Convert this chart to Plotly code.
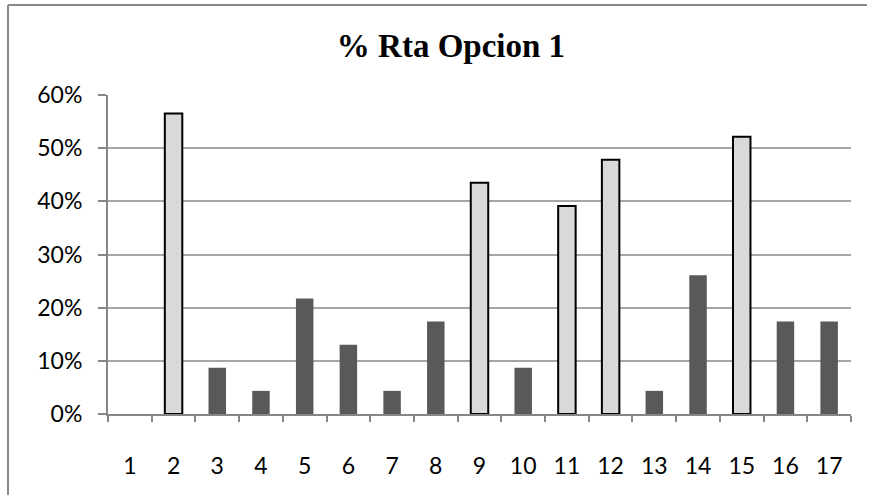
import plotly.graph_objects as go

# Share of answers for option 1, per question (fractions of 23 responses)
categories = [str(i) for i in range(1, 18)]
values = [0.0, 0.5652, 0.0870, 0.0435, 0.2174, 0.1304, 0.0435, 0.1739, 0.4348,
          0.0870, 0.3913, 0.4783, 0.0435, 0.2609, 0.5217, 0.1739, 0.1739]
highlight = [False, True, False, False, False, False, False, False, True,
             False, True, True, False, False, True, False, False]
y_ticks = [0, 0.1, 0.2, 0.3, 0.4, 0.5, 0.6]
y_tick_labels = ["0%", "10%", "20%", "30%", "40%", "50%", "60%"]

fill_colors = ["#D9D9D9" if h else "#595959" for h in highlight]
line_colors = ["#000000" if h else "#595959" for h in highlight]
line_widths = [2 if h else 0 for h in highlight]

fig = go.Figure(go.Bar(
    x=categories,
    y=values,
    width=0.4,
    marker=dict(color=fill_colors, line=dict(color=line_colors, width=line_widths)),
))

W, H = 869, 497
L, R, T, B = 108, 18, 95, 83
pw, ph = W - L - R, H - T - B

def px_x(p):
    return (p - L) / pw

def px_y(p):
    return (H - B - p) / ph

fig.update_layout(
    width=W, height=H,
    margin=dict(l=L, r=R, t=T, b=B),
    paper_bgcolor="white", plot_bgcolor="white",
    showlegend=False,
    title=dict(
        text="<b>% Rta Opcion 1</b>",
        x=px_x(451), xref="paper", xanchor="center",
        y=1 - 45 / H, yref="container", yanchor="middle",
        font=dict(family="Liberation Serif", size=33, color="#000000"),
    ),
    font=dict(family="Lato", size=23, color="#000000"),
    bargap=0.6,
    xaxis=dict(
        type="category",
        tickson="boundaries",
        ticks="outside", ticklen=6, tickwidth=2, tickcolor="#868686",
        showline=True, linecolor="#868686", linewidth=2,
        showgrid=False, zeroline=False,
        tickfont=dict(family="Lato", size=23),
        ticklabelstandoff=30,
    ),
    yaxis=dict(
        range=[0, 0.6],
        tickvals=y_ticks, ticktext=y_tick_labels,
        ticks="outside", ticklen=8, tickwidth=2, tickcolor="#868686",
        showline=True, linecolor="#868686", linewidth=2,
        showgrid=True, gridcolor="#A6A6A6", gridwidth=2,
        zeroline=False,
        tickfont=dict(family="Lato", size=23),
        ticklabelstandoff=11,
    ),
    shapes=[
        # chart frame (top and left edges visible in the page)
        dict(type="line", xref="paper", yref="paper",
             x0=px_x(8), x1=px_x(867), y0=px_y(5), y1=px_y(5),
             line=dict(color="#898989", width=2)),
        dict(type="line", xref="paper", yref="paper",
             x0=px_x(8), x1=px_x(8), y0=px_y(5), y1=px_y(495),
             line=dict(color="#898989", width=2)),
    ],
)

fig.write_html(
    "out.html",
    config={"displayModeBar": False},
    post_script="document.documentElement.style.overflow='hidden';"
                "document.body.style.overflow='hidden';"
                "document.body.style.margin='0';",
)
